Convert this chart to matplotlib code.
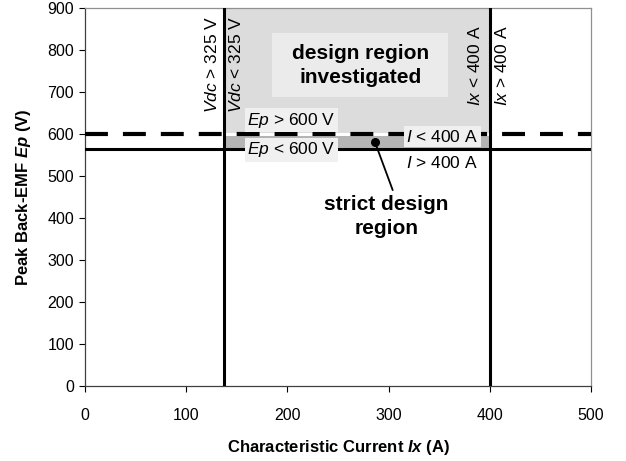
import matplotlib
matplotlib.use("Agg")
import matplotlib.pyplot as plt
from matplotlib.patches import Rectangle

plt.rcParams["font.family"] = ["Liberation Sans", "DejaVu Sans"]
plt.rcParams["mathtext.fontset"] = "custom"
plt.rcParams["mathtext.rm"] = "Liberation Sans"
plt.rcParams["mathtext.it"] = "Liberation Sans:italic"
plt.rcParams["mathtext.bf"] = "Liberation Sans:bold"
plt.rcParams["mathtext.bfit"] = "Liberation Sans:bold:italic"

# limits
vdc_limit_ix = 137      # Vdc = 325 V boundary (A)
ix_limit = 400          # Ix = 400 A boundary (A)
ep_limit = 600          # Ep = 600 V boundary (V)
ep_strict = 565         # I = 400 A boundary (V)
x_max = 500
y_max = 900
x_ticks = [0, 100, 200, 300, 400, 500]
y_ticks = [0, 100, 200, 300, 400, 500, 600, 700, 800, 900]

fig = plt.figure(figsize=(6.26, 4.61), dpi=100)
ax = fig.add_axes([0.1358, 0.1627, 0.944 - 0.1358, 0.9826 - 0.1627])

# shaded regions
ax.fill_between([vdc_limit_ix, ix_limit], ep_limit + 3, y_max, color="#dcdcdc", lw=0, zorder=1)
ax.fill_between([vdc_limit_ix, ix_limit + 1], ep_strict, ep_limit - 4, color="#b4b4b4", lw=0, zorder=1)

# boundary lines
ax.axvline(vdc_limit_ix, color="black", lw=2.2, zorder=3)
ax.axvline(ix_limit, color="black", lw=2.2, zorder=3)
ax.axhline(ep_strict, color="black", lw=2.2, zorder=3)
ax.axhline(ep_limit, color="black", lw=3, dashes=(5.5, 3.6), zorder=3)

box_kw = dict(boxstyle="square,pad=0.15", facecolor="#f0f0f0", edgecolor="none")

ax.add_patch(Rectangle((185, 688), 174, 152, facecolor="#ebebeb", edgecolor="none", zorder=2))
ax.text(272, 763, "design region\ninvestigated", ha="center", va="center",
        fontsize=15, fontweight="bold", linespacing=1.35, zorder=4)

ax.text(204, 633, r"$\mathit{Ep}$ > 600 V", ha="center", va="center", fontsize=12.5, zorder=4, bbox=box_kw)
ax.text(204, 562, r"$\mathit{Ep}$ < 600 V", ha="center", va="center", fontsize=12.5, zorder=4, bbox=box_kw)
ax.text(353, 594, r"$\mathit{I}$ < 400 A", ha="center", va="center", fontsize=12.5, zorder=4, bbox=box_kw)
ax.text(353, 532, r"$\mathit{I}$ > 400 A", ha="center", va="center", fontsize=12.5, zorder=4)

ax.text(125.5, 880, r"$\mathit{Vdc}$ > 325 V", rotation=90, ha="center", va="top", fontsize=12.5, zorder=4)
ax.text(149, 880, r"$\mathit{Vdc}$ < 325 V", rotation=90, ha="center", va="top", fontsize=12.5, zorder=4)
ax.text(385, 858, r"$\mathit{Ix}$ < 400 A", rotation=90, ha="center", va="top", fontsize=12.5, zorder=4)
ax.text(412, 858, r"$\mathit{Ix}$ > 400 A", rotation=90, ha="center", va="top", fontsize=12.5, zorder=4)

# strict design region callout
ax.plot([286.5, 304], [581, 467], color="black", lw=1.3, zorder=5)
ax.plot([286.5], [581], "o", color="black", ms=5.5, zorder=5)
ax.text(298, 403, "strict design\nregion", ha="center", va="center",
        fontsize=15, fontweight="bold", linespacing=1.35, zorder=4)

ax.set_xlim(0, x_max)
ax.set_ylim(0, y_max)
ax.set_xticks(x_ticks)
ax.set_yticks(y_ticks)
ax.tick_params(direction="out", length=4, width=0.8, labelsize=11.5, pad=12)
ax.tick_params(axis="y", pad=4)
for side in ["left", "bottom"]:
    ax.spines[side].set_color("#404040")
    ax.spines[side].set_linewidth(0.9)
for side in ["top", "right"]:
    ax.spines[side].set_color("#909090")
    ax.spines[side].set_linewidth(0.9)

ax.set_xlabel(r"Characteristic Current $\mathbfit{Ix}$ (A)", fontsize=12, fontweight="bold", labelpad=11)
ax.set_ylabel(r"Peak Back-EMF $\mathbfit{Ep}$ (V)", fontsize=12, fontweight="bold", labelpad=10)

fig.savefig("out.png", dpi=100)
